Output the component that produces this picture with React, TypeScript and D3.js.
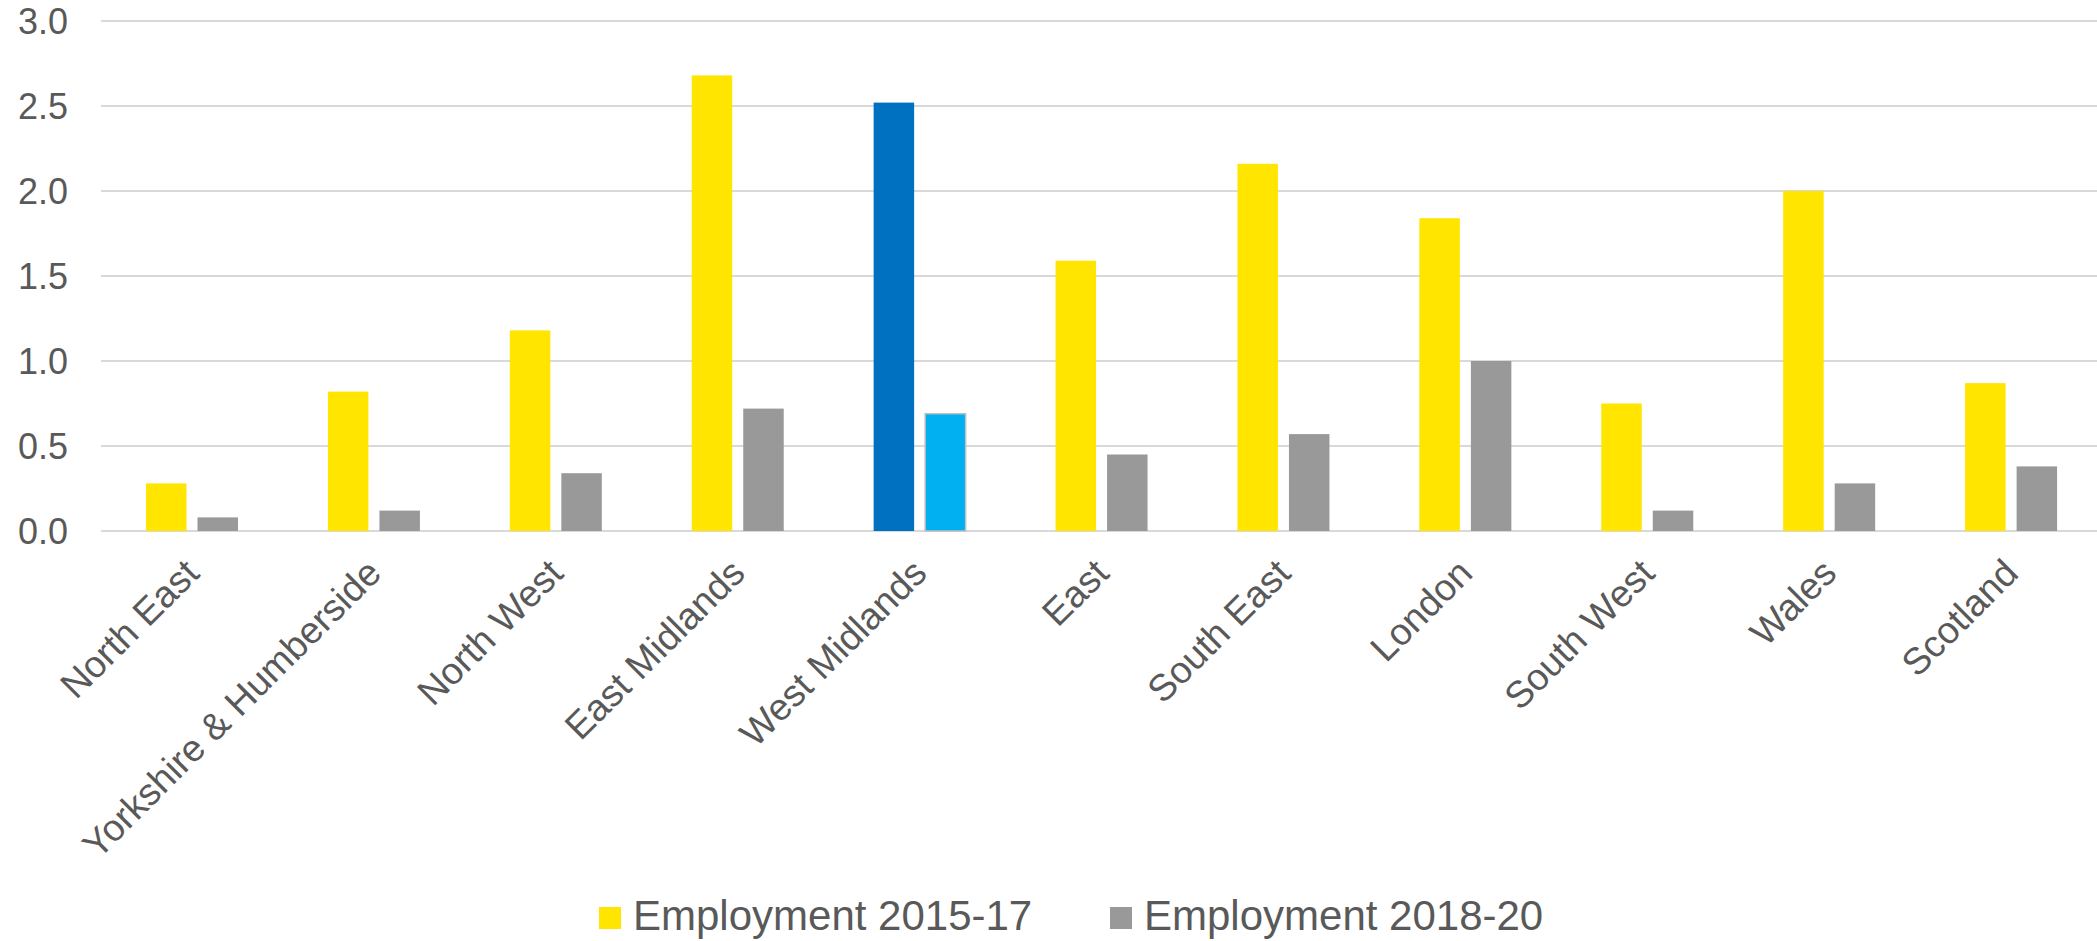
import React, { useEffect, useRef } from "react";
import * as d3 from "d3";

const categories = [
  "North East",
  "Yorkshire & Humberside",
  "North West",
  "East Midlands",
  "West Midlands",
  "East",
  "South East",
  "London",
  "South West",
  "Wales",
  "Scotland",
];
const employment201517 = [0.28, 0.82, 1.18, 2.68, 2.52, 1.59, 2.16, 1.84, 0.75, 2.0, 0.87];
const employment201820 = [0.08, 0.12, 0.34, 0.72, 0.69, 0.45, 0.57, 1.0, 0.12, 0.28, 0.38];
const seriesNames = ["Employment 2015-17", "Employment 2018-20"];
const yTicks = [0, 0.5, 1.0, 1.5, 2.0, 2.5, 3.0];
const highlightCategory = "West Midlands";

const W = 2097;
const H = 941;
const FONT = "'Liberation Sans', Arial, sans-serif";
const TEXT = "#595959";
const COLORS = ["#FFE500", "#999999"];
const HIGHLIGHT = ["#0070C0", "#00B0F0"];

export default function App() {
  const ref = useRef<SVGSVGElement>(null);

  useEffect(() => {
    const svg = d3.select(ref.current);
    svg.selectAll("*").remove();

    const x0 = d3.scaleBand<string>().domain(categories).range([101, 2102]).padding(0);
    const x1 = d3.scaleBand<number>().domain([0, 1]).range([45, 137]).paddingInner(0.214).paddingOuter(0);
    const y = d3.scaleLinear().domain([0, 3]).range([531, 21]);

    // gridlines
    svg
      .append("g")
      .selectAll("line")
      .data(yTicks)
      .join("line")
      .attr("x1", 101)
      .attr("x2", W)
      .attr("y1", (d) => y(d))
      .attr("y2", (d) => y(d))
      .attr("stroke", "#d9d9d9")
      .attr("stroke-width", 2);

    // y labels
    svg
      .append("g")
      .selectAll("text")
      .data(yTicks)
      .join("text")
      .attr("x", 68)
      .attr("y", (d) => y(d))
      .attr("dy", "0.35em")
      .attr("text-anchor", "end")
      .attr("font-family", FONT)
      .attr("font-size", 36)
      .attr("fill", TEXT)
      .text((d) => d3.format(".1f")(d));

    const rows = categories.map((c, i) => ({
      c,
      vals: [employment201517[i], employment201820[i]],
    }));

    const g = svg
      .append("g")
      .selectAll("g")
      .data(rows)
      .join("g")
      .attr("transform", (d) => `translate(${x0(d.c)},0)`);

    g.selectAll("rect")
      .data((d) => d.vals.map((v, k) => ({ v, k, c: d.c })))
      .join("rect")
      .attr("x", (d) => x1(d.k)!)
      .attr("width", x1.bandwidth())
      .attr("y", (d) => y(d.v))
      .attr("height", (d) => y(0) - y(d.v))
      .attr("fill", (d) => (d.c === highlightCategory ? HIGHLIGHT[d.k] : COLORS[d.k]))
      .attr("stroke", (d) => (d.c === highlightCategory && d.k === 1 ? "#bfbfbf" : "none"))
      .attr("stroke-width", 1.5);

    // category labels
    svg
      .append("g")
      .selectAll("text")
      .data(categories)
      .join("text")
      .attr(
        "transform",
        (d) => `translate(${x0(d)! + x0.bandwidth() / 2},566) rotate(-45)`
      )
      .attr("dy", "0.35em")
      .attr("text-anchor", "end")
      .attr("font-family", FONT)
      .attr("font-size", 37.5)
      .attr("fill", TEXT)
      .text((d) => d);

    // legend
    const legendX = [599, 1110];
    const leg = svg
      .append("g")
      .selectAll("g")
      .data(seriesNames)
      .join("g")
      .attr("transform", (_d, i) => `translate(${legendX[i]},0)`);
    leg
      .append("rect")
      .attr("x", 0)
      .attr("y", 907)
      .attr("width", 22)
      .attr("height", 22)
      .attr("fill", (_d, i) => COLORS[i]);
    leg
      .append("text")
      .attr("x", 34)
      .attr("y", 930)
      .attr("font-family", FONT)
      .attr("font-size", 42)
      .attr("fill", TEXT)
      .text((d) => d);
  }, []);

  return (
    <svg
      ref={ref}
      width={W}
      height={H}
      style={{ position: "absolute", left: 0, top: 0, background: "#fff" }}
    />
  );
}
